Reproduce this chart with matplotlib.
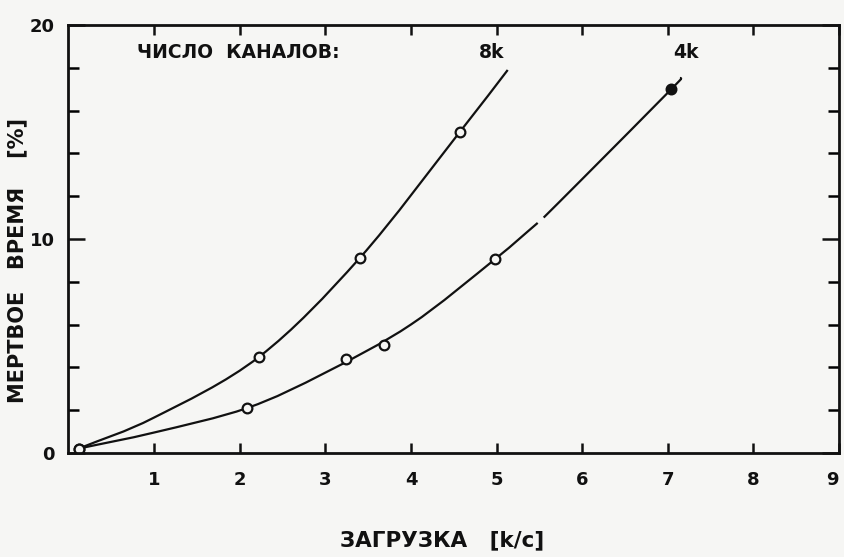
import matplotlib
matplotlib.use("Agg")
import matplotlib.pyplot as plt
from matplotlib.path import Path
from matplotlib.patches import PathPatch
import numpy as np

x_8k = [0.12, 2.23, 3.40, 4.57]
y_8k = [0.2, 4.5, 9.1, 15.0]
x_4k = [0.12, 2.09, 3.24, 3.69, 4.98]
y_4k = [0.2, 2.1, 4.4, 5.05, 9.05]
x_4k_filled = [7.04]
y_4k_filled = [17.0]

# hand-drawn curves (the 4k line has a small break)
curve_8k_x = [0.12, 1.0, 2.23, 3.40, 4.57, 5.13]
curve_8k_y = [0.2, 1.65, 4.5, 9.1, 15.0, 17.9]
curve_4k_a_x = [0.12, 1.0, 2.09, 3.0, 4.0, 4.98, 5.48]
curve_4k_a_y = [0.2, 0.95, 2.1, 3.75, 6.0, 9.05, 10.75]
curve_4k_b_x = [5.55, 6.0, 7.04, 7.16]
curve_4k_b_y = [11.0, 12.8, 17.0, 17.55]

xticks = [1, 2, 3, 4, 5, 6, 7, 8, 9]
yticks_major = [0, 10, 20]
yticks_minor = [2, 4, 6, 8, 12, 14, 16, 18]

bg = "#f6f6f4"
ink = "#111111"


def smooth_line(ax, xs, ys):
    # Catmull-Rom through the traced points, drawn as cubic Bezier path
    p = np.column_stack([xs, ys])
    ext = np.vstack([2 * p[0] - p[1], p, 2 * p[-1] - p[-2]])
    verts = [p[0]]
    codes = [Path.MOVETO]
    for i in range(len(p) - 1):
        p0, p1, p2, p3 = ext[i], ext[i + 1], ext[i + 2], ext[i + 3]
        verts += [p1 + (p2 - p0) / 6, p2 - (p3 - p1) / 6, p2]
        codes += [Path.CURVE4] * 3
    ax.add_patch(PathPatch(Path(verts, codes), fc="none", ec=ink, lw=1.6))


fig = plt.figure(figsize=(8.45, 5.57), dpi=100, facecolor=bg)
ax = fig.add_axes([0.081, 0.187, 0.912, 0.768], facecolor=bg)

smooth_line(ax, curve_8k_x, curve_8k_y)
smooth_line(ax, curve_4k_a_x, curve_4k_a_y)
smooth_line(ax, curve_4k_b_x, curve_4k_b_y)
ax.plot(x_8k, y_8k, "o", ms=7, mfc=bg, mec=ink, mew=1.6)
ax.plot(x_4k, y_4k, "o", ms=7, mfc=bg, mec=ink, mew=1.6)
ax.plot(x_4k_filled, y_4k_filled, "o", ms=7, mfc=ink, mec=ink, mew=1.6)

ax.set_xlim(0, 9)
ax.set_ylim(0, 20)

for s in ax.spines.values():
    s.set_linewidth(2)
    s.set_color(ink)

ax.set_xticks(xticks)
ax.set_yticks(yticks_major)
ax.set_yticks(yticks_minor, minor=True)
ax.tick_params(axis="x", which="major", direction="in", length=7, width=1.8,
               top=True, pad=13, labelsize=13, colors=ink)
ax.tick_params(axis="y", which="major", direction="in", length=12, width=1.8,
               right=True, pad=10, labelsize=13, colors=ink)
ax.tick_params(axis="y", which="minor", direction="in", length=8, width=1.8,
               right=True)
ax.set_yticklabels(["0", "10", "20"], fontweight="bold")
ax.set_xticklabels([str(t) for t in xticks], fontweight="bold")
ax.get_xticklabels()[-1].set_ha("right")

ax.text(0.8, 18.7, "ЧИСЛО  КАНАЛОВ:", fontsize=13.5, fontweight="bold",
        color=ink, va="center", ha="left")
ax.text(4.94, 18.7, "8k", fontsize=13.5, fontweight="bold", color=ink,
        va="center", ha="center")
ax.text(7.21, 18.7, "4k", fontsize=13.5, fontweight="bold", color=ink,
        va="center", ha="center")

ax.set_xlabel("ЗАГРУЗКА   [k/c]", fontsize=15.5, fontweight="bold", color=ink,
              va="center")
ax.xaxis.set_label_coords(0.485, -0.205)
ax.set_ylabel("МЕРТВОЕ   ВРЕМЯ    [%]", fontsize=15, fontweight="bold",
              color=ink, va="center")
ax.yaxis.set_label_coords(-0.066, 0.45)

fig.savefig("out.png", dpi=100, facecolor=bg)
